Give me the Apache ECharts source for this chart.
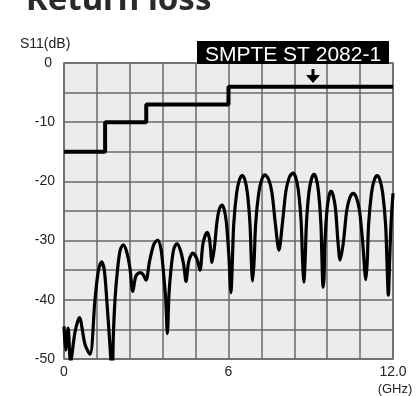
<!DOCTYPE html>
<html>
<head>
<meta charset="utf-8">
<script src="https://cdn.jsdelivr.net/npm/echarts@6/dist/echarts.min.js"></script>
<style>
html,body{margin:0;padding:0;background:#fff;}
#c{width:416px;height:396px;}
</style>
</head>
<body>
<div id="c"></div>
<script>
const freqGHz = [0.00,0.06,0.15,0.24,0.40,0.56,0.77,0.95,1.13,1.25,1.37,1.47,1.56,1.68,1.76,1.80,1.86,1.95,2.05,2.16,2.28,2.40,2.51,2.62,2.77,2.88,2.99,3.12,3.28,3.42,3.54,3.62,3.71,3.77,3.83,3.90,4.00,4.12,4.25,4.37,4.45,4.55,4.70,4.84,4.96,5.07,5.22,5.31,5.40,5.49,5.58,5.67,5.76,5.84,5.925,6.01,6.09,6.14,6.19,6.295,6.40,6.50,6.595,6.69,6.785,6.834,6.88,6.934,6.99,7.105,7.22,7.33,7.458,7.585,7.71,7.84,7.97,8.095,8.22,8.35,8.45,8.55,8.65,8.70,8.75,8.794,8.843,8.935,9.03,9.12,9.20,9.285,9.37,9.41,9.45,9.485,9.52,9.595,9.668,9.74,9.82,9.905,9.99,10.07,10.19,10.31,10.43,10.55,10.665,10.78,10.895,11.01,11.06,11.11,11.215,11.32,11.42,11.52,11.625,11.73,11.78,11.83,11.88,11.93,12.00];
const s11dB   = [-44.5,-48.5,-44.8,-50.5,-45.5,-43.0,-47.6,-49.2,-40.0,-35.2,-33.6,-35.0,-40.0,-48.0,-53.0,-46.0,-40.0,-35.0,-31.6,-30.7,-31.8,-34.5,-38.6,-36.0,-35.4,-35.7,-36.7,-33.5,-30.6,-29.9,-31.5,-35.0,-40.0,-45.7,-39.0,-35.0,-31.5,-30.5,-31.7,-34.2,-36.9,-33.5,-32.1,-33.0,-35.0,-30.5,-28.6,-29.8,-33.7,-31.0,-26.8,-24.6,-24.0,-24.7,-27.0,-32.3,-38.8,-33.6,-27.3,-22.0,-19.7,-19.0,-19.7,-22.0,-27.3,-33.6,-36.8,-33.5,-27.2,-21.9,-19.6,-18.9,-19.6,-21.9,-27.2,-31.6,-26.9,-21.6,-19.3,-18.6,-19.3,-21.6,-26.9,-33.2,-37.0,-33.4,-27.1,-21.8,-19.5,-18.8,-19.5,-21.8,-27.1,-33.4,-37.9,-36.3,-30.0,-24.7,-22.4,-21.7,-22.4,-24.7,-30.0,-33.3,-30.3,-25.0,-22.7,-22.0,-22.7,-25.0,-30.3,-36.6,-33.6,-27.3,-22.0,-19.7,-19.0,-19.7,-22.0,-27.3,-33.6,-39.2,-33.0,-27.0,-22.0];
// SMPTE ST 2082-1 limit mask
const maskFreq = [0, 1.5, 3, 6, 12];
const maskDB   = [-15, -10, -7, -4, -4];
const xTickLabels = {0:'0', 6:'6', 12:'12.0'};
const yTickLabels = [0,-10,-20,-30,-40,-50];
const yAxisName = 'S11(dB)';
const xUnit = '(GHz)';
const legendText = 'SMPTE ST 2082-1';
const titleText = 'Return loss';

const chart = echarts.init(document.getElementById('c'), null, {renderer:'canvas'});
const grid = {left:64, right:23, top:63, bottom:37};
const lab = {fontFamily:'"Liberation Sans", Arial, sans-serif', fontSize:14, color:'#222'};
chart.setOption({
  animation:false,
  backgroundColor:'#fff',
  grid:Object.assign({show:true, backgroundColor:'#ececec', borderColor:'#6a6a6a', borderWidth:1.5}, grid),
  xAxis:{type:'value', min:0, max:12, interval:1.2,
    axisLine:{show:false}, axisTick:{show:false},
    splitLine:{show:true, lineStyle:{color:'#6a6a6a', width:1.5}},
    axisLabel:Object.assign({margin:6, formatter:function(v){
      for (const k in xTickLabels){ if (Math.abs(v - Number(k)) < 1e-6) return xTickLabels[k]; }
      return '';
    }}, lab)},
  yAxis:{type:'value', min:-50, max:0, interval:5,
    axisLine:{show:false}, axisTick:{show:false},
    splitLine:{show:true, lineStyle:{color:'#6a6a6a', width:1.5}},
    axisLabel:Object.assign({margin:9, formatter:function(v){
      if (Math.abs(v) < 1e-6) return '{z|0}';
      return yTickLabels.some(t=>Math.abs(t-v)<1e-6) ? String(Math.round(v)) : '';
    }, rich:{z:{fontFamily:'"Liberation Sans", Arial, sans-serif', fontSize:14, color:'#222', padding:[0,3,0,0]}}}, lab)},
  series:[
    {type:'line', data:maskFreq.map((f,i)=>[f,maskDB[i]]), step:'end', symbol:'none',
     lineStyle:{color:'#000', width:4}, z:3},
    {type:'line', data:freqGHz.map((f,i)=>[f,s11dB[i]]), smooth:0.3, symbol:'none',
     lineStyle:{color:'#000', width:3.2}, z:4, clip:true}
  ],
  graphic:[
    {type:'text', left:26, top:-16, style:{text:titleText, font:'bold 33px "Noto Sans", sans-serif', fill:'#2a2a2a'}},
    {type:'text', x:20, y:44, style:{text:yAxisName, font:'14px "Liberation Sans", Arial, sans-serif', fill:'#222', verticalAlign:'middle'}},
    {type:'text', x:395, y:389, style:{text:xUnit, font:'13px "Liberation Sans", Arial, sans-serif', fill:'#222', align:'center', verticalAlign:'middle'}},
    {type:'rect', shape:{x:197, y:41, width:192, height:23}, style:{fill:'#000'}, z:10},
    {type:'text', x:293, y:55.5, style:{text:legendText, font:'21px "Liberation Sans", Arial, sans-serif', fill:'#fff', align:'center', verticalAlign:'middle'}, z:11},
    {type:'line', shape:{x1:313, y1:69, x2:313, y2:76}, style:{stroke:'#000', lineWidth:3}, z:10},
    {type:'polygon', shape:{points:[[306,75],[320,75],[313,83]]}, style:{fill:'#000'}, z:10}
  ]
});
</script>
</body>
</html>
